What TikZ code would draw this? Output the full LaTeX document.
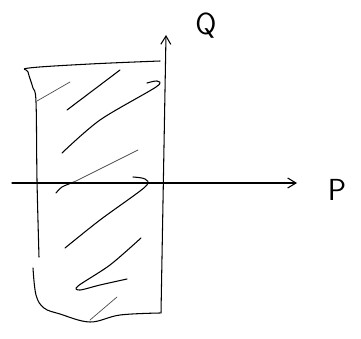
\documentclass[tikz,border=0pt]{standalone}
\usepackage{tikz}
\usetikzlibrary{positioning,arrows.meta}

\begin{document}
\begin{tikzpicture}[x=0.03cm,y=-0.03cm,>={Straight Barb[length=2.5mm,width=3mm]},
  pen/.style={line width=0.9pt,line cap=round,line join=round},
  faint/.style={line width=0.6pt,black!70,line cap=round},
  axlabel/.style={font=\fontsize{26}{26}\selectfont\sffamily}]
\useasboundingbox (0,0) rectangle (361,339);
% axes
\coordinate (pstart) at (12,183);
\coordinate (ptip) at (297,183);
\coordinate (qstart) at (161,313);
\coordinate (qtip) at (166,35);
\node[axlabel] (P) at (337,190) {P};
\node[axlabel] (Q) at (206,26) {Q};
\draw[pen,->] (pstart) -- (ptip);
\draw[pen,->] (qstart) -- (qtip);
% region boundary
\draw[pen] plot[smooth,tension=0.6] coordinates {(160,61) (90,64) (29,68) (28,72) (33,88) (36,102) (37,180) (39,257)};
\draw[pen] plot[smooth,tension=0.6] coordinates {(33,268) (36,295) (44,308) (60,314) (90,322) (120,315) (160,313)};
% hatching
\draw[faint] (37,101) -- (70,82);
\draw[pen] (120,70) -- (67,110);
\draw[pen] plot[smooth,tension=0.5] coordinates {(147,83) (157,81) (156,87) (100,120) (62,153)};
\draw[faint] (138,150) -- (74,182);
\draw[pen] plot[smooth,tension=0.5] coordinates {(74,182) (62,187) (56,193)};
\draw[pen] plot[smooth,tension=0.5] coordinates {(133,177) (145,179) (145,187) (100,220) (65,248)};
\draw[pen] plot[smooth,tension=0.5] coordinates {(141,238) (110,265) (78,286) (80,290) (100,285) (127,279)};
\draw[faint] (117,297) -- (90,320);
\end{tikzpicture}
\end{document}
